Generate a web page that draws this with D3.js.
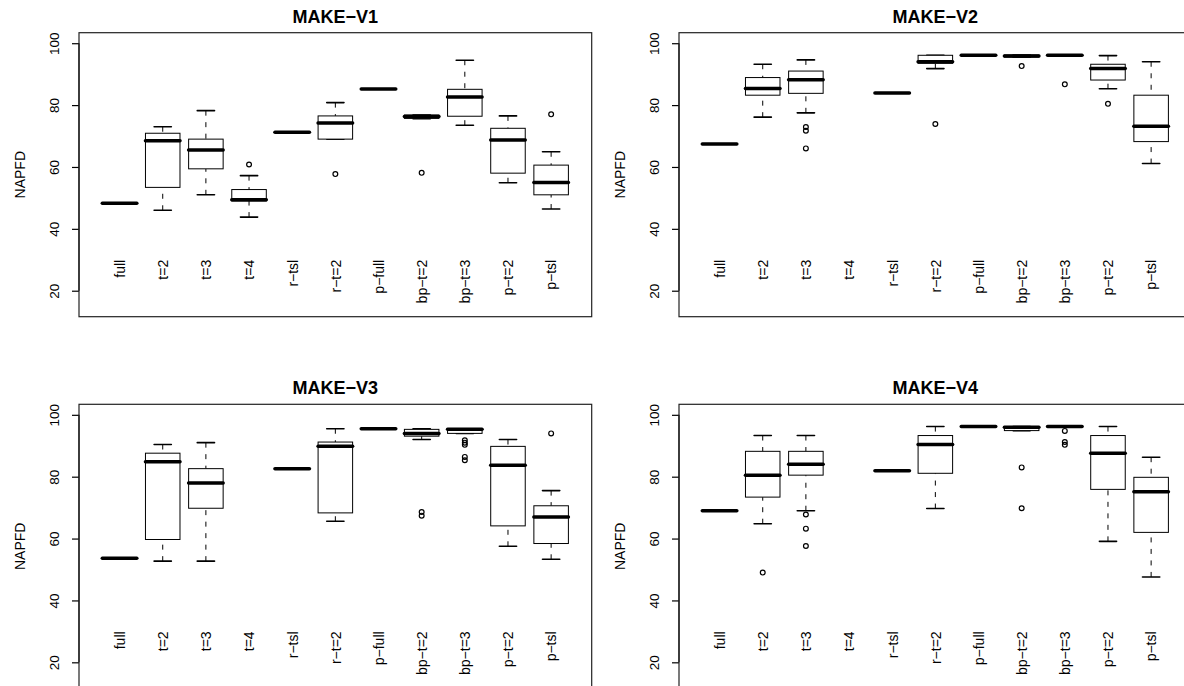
<!DOCTYPE html>
<html>
<head>
<meta charset="utf-8">
<script src="https://cdn.jsdelivr.net/npm/d3@7"></script>
<style>
  html, body { margin: 0; padding: 0; background: #fff; }
  svg { display: block; }
  text { font-family: "Liberation Sans", Arial, Helvetica, sans-serif; fill: #000; }
</style>
</head>
<body>
<svg id="chart" width="1184" height="686"></svg>
<script>
// ---------- data ----------
const categories = ["full", "t=2", "t=3", "t=4", "r\u2212tsl", "r\u2212t=2", "p\u2212full",
                    "bp\u2212t=2", "bp\u2212t=3", "p\u2212t=2", "p\u2212tsl"];
const panelTitles = ["MAKE\u2212V1", "MAKE\u2212V2", "MAKE\u2212V3", "MAKE\u2212V4"];
const yTicks = [20, 40, 60, 80, 100];
const yLimits = [15, 100];
const yLabel = "NAPFD";

// five-number summaries: [lower whisker, Q1, median, Q3, upper whisker]; null = no data
const v1Stats = [
  [48.3, 48.3, 48.3, 48.3, 48.3],
  [46.0, 53.4, 68.5, 70.9, 73.0],
  [51.0, 59.4, 65.5, 69.0, 78.2],
  [43.8, 49.0, 49.4, 52.7, 57.2],
  [71.2, 71.2, 71.2, 71.2, 71.2],
  [69.0, 69.0, 74.2, 76.5, 80.8],
  [85.2, 85.2, 85.2, 85.2, 85.2],
  [75.6, 75.7, 76.3, 76.8, 76.8],
  [73.5, 76.4, 82.6, 85.1, 94.5],
  [54.9, 58.0, 68.7, 72.5, 76.5],
  [46.4, 51.0, 55.0, 60.6, 64.9]
];
const v1Outliers = [[], [], [], [60.8], [], [57.7], [], [58.1], [], [], [77.0]];

const v2Stats = [
  [67.4, 67.4, 67.4, 67.4, 67.4],
  [76.1, 83.2, 85.4, 88.9, 93.2],
  [77.5, 83.8, 88.2, 91.0, 94.6],
  null,
  [83.9, 83.9, 83.9, 83.9, 83.9],
  [91.8, 93.5, 94.0, 96.1, 96.1],
  [96.1, 96.1, 96.1, 96.1, 96.1],
  [95.5, 95.5, 95.9, 96.2, 96.2],
  [96.1, 96.1, 96.1, 96.1, 96.1],
  [85.3, 88.1, 91.8, 93.2, 96.0],
  [61.1, 68.2, 73.2, 83.2, 94.0]
];
const v2Outliers = [[], [], [72.9, 71.7, 66.0], [], [], [73.9], [], [92.6], [86.7], [80.4], []];

const v3Stats = [
  [53.6, 53.6, 53.6, 53.6, 53.6],
  [52.7, 59.7, 84.8, 87.6, 90.4],
  [52.7, 69.8, 78.0, 82.6, 91.0],
  null,
  [82.6, 82.6, 82.6, 82.6, 82.6],
  [65.6, 68.3, 89.8, 91.2, 95.5],
  [95.5, 95.5, 95.5, 95.5, 95.5],
  [92.0, 93.1, 94.0, 95.3, 95.5],
  [94.0, 94.0, 95.3, 95.5, 95.5],
  [57.5, 64.1, 83.7, 89.8, 92.0],
  [53.3, 58.4, 67.0, 70.6, 75.5]
];
const v3Outliers = [[], [], [], [], [], [], [], [68.6, 67.4], [91.8, 91.0, 90.3, 86.4, 85.3], [], [94.0]];

const v4Stats = [
  [69.0, 69.0, 69.0, 69.0, 69.0],
  [64.8, 73.4, 80.5, 88.2, 93.3],
  [69.0, 80.5, 84.0, 88.2, 93.3],
  null,
  [81.9, 81.9, 81.9, 81.9, 81.9],
  [69.7, 81.1, 90.4, 93.3, 96.2],
  [96.2, 96.2, 96.2, 96.2, 96.2],
  [94.9, 94.9, 96.0, 96.2, 96.2],
  [96.2, 96.2, 96.2, 96.2, 96.2],
  [59.1, 75.9, 87.6, 93.3, 96.2],
  [47.6, 62.0, 75.1, 79.8, 86.3]
];
const v4Outliers = [[], [49.0], [67.8, 63.2, 57.6], [], [], [], [], [83.0, 69.8], [94.8, 91.2, 90.3], [], []];

const panelStats = [v1Stats, v2Stats, v3Stats, v4Stats];
const panelOutliers = [v1Outliers, v2Outliers, v3Outliers, v4Outliers];

// ---------- layout ----------
const svg = d3.select("#chart");
const plotW = 512.7, plotH = 284;
const origins = [[79, 32.7], [679, 32.7], [79, 404.3], [679, 404.3]];
const boxHalf = 0.4, stapleHalf = 0.2;

// R-style 4% axis extension
const yExt = (yLimits[1] - yLimits[0]) * 0.04;
const n = categories.length;
const xExt = n * 0.04;

panelStats.forEach((stats, pi) => {
  const [ox, oy] = origins[pi];
  const g = svg.append("g").attr("transform", `translate(${ox},${oy})`);

  const x = d3.scaleLinear().domain([0.5 - xExt, n + 0.5 + xExt]).range([0, plotW]);
  const y = d3.scaleLinear().domain([yLimits[0] - yExt, yLimits[1] + yExt]).range([plotH, 0]);

  // boxplots
  const bx = g.append("g");
  stats.forEach((s, i) => {
    if (!s) return;
    const cx = x(i + 1);
    const [lo, q1, med, q3, hi] = s;
    const w0 = x(i + 1 - boxHalf), w1 = x(i + 1 + boxHalf);
    const s0 = x(i + 1 - stapleHalf), s1 = x(i + 1 + stapleHalf);
    // whiskers (dashed)
    [[hi, q3], [lo, q1]].forEach(([a, b]) => {
      if (a !== b) {
        bx.append("line").attr("x1", cx).attr("x2", cx).attr("y1", y(a)).attr("y2", y(b))
          .attr("stroke", "#000").attr("stroke-width", 1).attr("stroke-dasharray", "5,6.5");
      }
    });
    // staples
    [hi, lo].forEach(v => {
      bx.append("line").attr("x1", s0).attr("x2", s1).attr("y1", y(v)).attr("y2", y(v))
        .attr("stroke", "#000").attr("stroke-width", 1.6).attr("stroke-linecap", "round");
    });
    // box
    bx.append("rect").attr("x", w0).attr("y", y(q3)).attr("width", w1 - w0)
      .attr("height", Math.max(0, y(q1) - y(q3)))
      .attr("fill", "#fff").attr("stroke", "#000").attr("stroke-width", 1);
    // median
    bx.append("line").attr("x1", w0).attr("x2", w1).attr("y1", y(med)).attr("y2", y(med))
      .attr("stroke", "#000").attr("stroke-width", 3.5).attr("stroke-linecap", "round");
    // outliers
    panelOutliers[pi][i].forEach(v => {
      bx.append("circle").attr("cx", cx).attr("cy", y(v)).attr("r", 2.4)
        .attr("fill", "none").attr("stroke", "#000").attr("stroke-width", 1.2);
    });
  });

  // category labels inside plot
  g.append("g").selectAll("text").data(categories).join("text")
    .attr("transform", (d, i) => `translate(${x(i + 1)},${y(30)}) rotate(-90)`)
    .attr("text-anchor", "end").attr("dy", "0.38em")
    .style("font-size", "14px").text(d => d);

  // y axis
  const ax = g.append("g").call(
    d3.axisLeft(y).tickValues(yTicks).tickSize(7).tickSizeOuter(0).tickFormat(d3.format("d")));
  ax.select(".domain").remove();
  ax.append("line").attr("x1", 0).attr("x2", 0).attr("y1", y(yTicks[0])).attr("y2", y(yTicks[yTicks.length - 1]))
    .attr("stroke", "#000").attr("stroke-width", 1.2);
  ax.selectAll(".tick line").attr("stroke", "#000").attr("stroke-width", 1.2);
  ax.selectAll(".tick text")
    .attr("x", null).attr("dy", null)
    .attr("text-anchor", "middle")
    .attr("transform", "translate(-20,0) rotate(-90)")
    .attr("fill", "#000")
    .style("font-family", "'Liberation Sans', Arial, Helvetica, sans-serif")
    .style("font-size", "13.5px");

  // plot box
  g.append("rect").attr("x", 0).attr("y", 0).attr("width", plotW).attr("height", plotH)
    .attr("fill", "none").attr("stroke", "#222").attr("stroke-width", 1.2);

  // y label
  g.append("text")
    .attr("transform", `translate(-54,${plotH / 2}) rotate(-90)`)
    .attr("text-anchor", "middle").style("font-size", "14px").text(yLabel);

  // title
  g.append("text").attr("x", plotW / 2).attr("y", -10.2)
    .attr("text-anchor", "middle").style("font-size", "18px").style("font-weight", "bold")
    .text(panelTitles[pi]);
});
</script>
</body>
</html>
